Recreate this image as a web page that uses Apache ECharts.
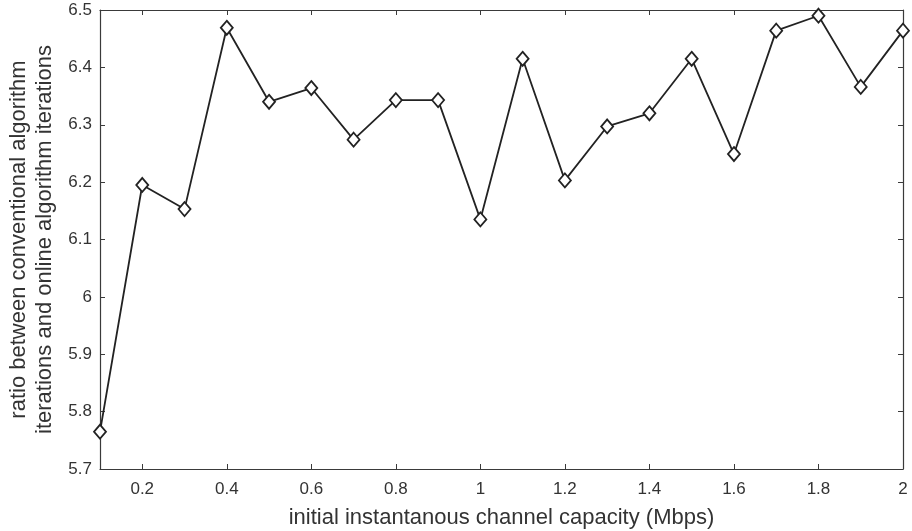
<!DOCTYPE html>
<html>
<head>
<meta charset="utf-8">
<script src="https://cdn.jsdelivr.net/npm/echarts@6/dist/echarts.min.js"></script>
<style>
  html, body { margin: 0; padding: 0; background: #fff; }
  #chart { width: 912px; height: 531px; }
</style>
</head>
<body>
<div id="chart"></div>
<script>
  // capacity (Mbps) and ratio values
  var capacity = [0.1, 0.2, 0.3, 0.4, 0.5, 0.6, 0.7, 0.8, 0.9, 1.0,
                  1.1, 1.2, 1.3, 1.4, 1.5, 1.6, 1.7, 1.8, 1.9, 2.0];
  var ratio = [5.765, 6.195, 6.153, 6.469, 6.340, 6.364, 6.274, 6.343, 6.343, 6.135,
               6.415, 6.203, 6.297, 6.320, 6.415, 6.249, 6.464, 6.490, 6.366, 6.464];
  var xName = 'initial instantanous channel capacity (Mbps)';
  var yName = 'ratio between conventional algorithm\niterations and online algorithm iterations';

  var chart = echarts.init(document.getElementById('chart'));
  var axisColor = '#3a3a3a';
  var textColor = '#333';
  var font = 'Liberation Sans, Arial, sans-serif';

  var pts = [];
  for (var i = 0; i < capacity.length; i++) {
    pts.push([capacity[i], ratio[i]]);
  }

  var xCommon = {
    type: 'value',
    min: 0.1,
    max: 2,
    splitNumber: 10,
    splitLine: { show: false },
    axisLine: { show: true, onZero: false, lineStyle: { color: axisColor, width: 1.2 } },
    axisTick: { show: true, inside: true, length: 5, lineStyle: { color: axisColor } }
  };
  var yCommon = {
    type: 'value',
    min: 5.7,
    max: 6.5,
    interval: 0.1,
    splitLine: { show: false },
    axisLine: { show: true, onZero: false, lineStyle: { color: axisColor, width: 1.2 } },
    axisTick: { show: true, inside: true, length: 5, lineStyle: { color: axisColor } }
  };

  var option = {
    backgroundColor: '#fff',
    animation: false,
    grid: { left: 100, right: 9, top: 10, bottom: 62, containLabel: false, outerBoundsMode: 'none' },
    xAxis: [
      Object.assign({}, xCommon, {
        position: 'bottom',
        name: xName,
        nameLocation: 'middle',
        nameGap: 38,
        nameTextStyle: { color: textColor, fontSize: 22, fontFamily: font },
        axisLabel: {
          color: textColor, fontSize: 17, fontFamily: font, margin: 12,
          showMinLabel: false,
          formatter: function (v) { return Math.round(v * 10) / 10 + ''; }
        }
      }),
      Object.assign({}, xCommon, {
        position: 'top',
        axisLabel: { show: false }
      })
    ],
    yAxis: [
      Object.assign({}, yCommon, {
        position: 'left',
        name: yName,
        nameLocation: 'middle',
        nameGap: 40,
        nameRotate: 90,
        nameTextStyle: { color: textColor, fontSize: 22, fontFamily: font, lineHeight: 26 },
        axisLabel: {
          color: textColor, fontSize: 17, fontFamily: font, margin: 8,
          formatter: function (v) { return Math.round(v * 10) / 10 + ''; }
        }
      }),
      Object.assign({}, yCommon, {
        position: 'right',
        axisLabel: { show: false }
      })
    ],
    series: [{
      type: 'line',
      data: pts,
      xAxisIndex: 0,
      yAxisIndex: 0,
      symbol: 'diamond',
      symbolSize: [12, 14],
      showAllSymbol: true,
      lineStyle: { color: '#222', width: 1.8 },
      itemStyle: { color: '#fff', borderColor: '#222', borderWidth: 1.8 },
      clip: false
    }]
  };
  chart.setOption(option);
</script>
</body>
</html>
